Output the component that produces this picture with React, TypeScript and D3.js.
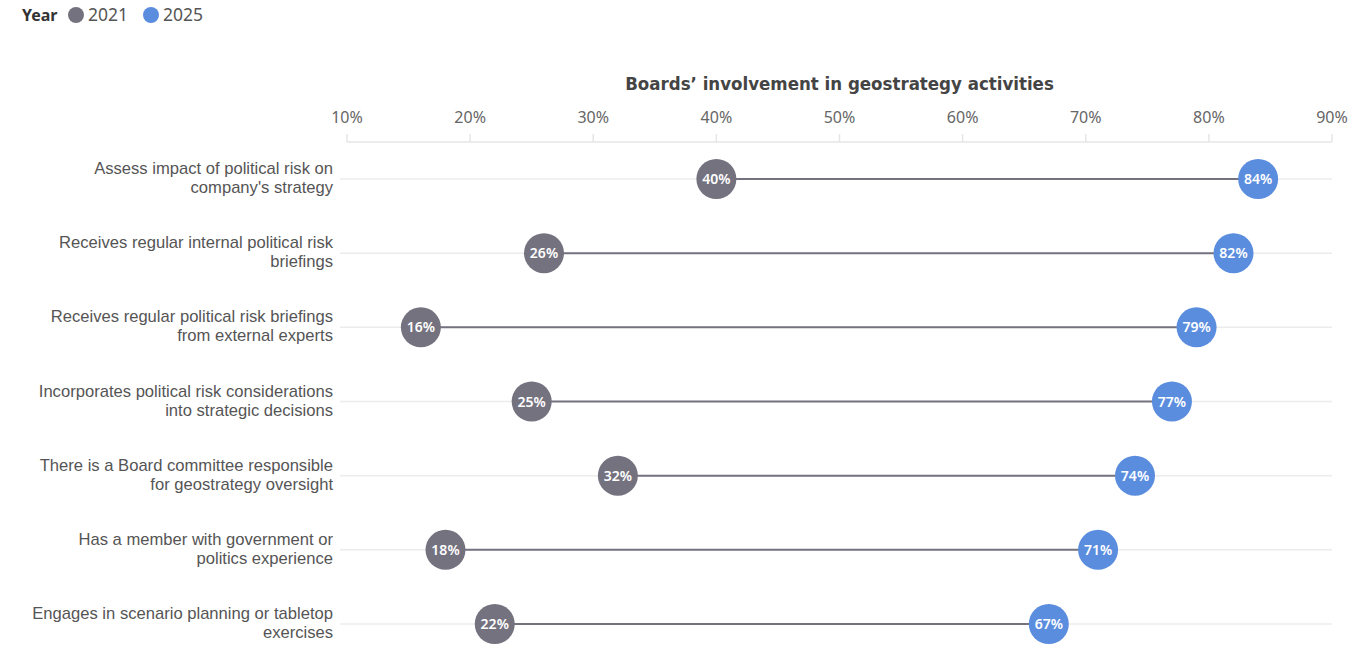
import React from "react";
import * as d3 from "d3";

const categories = [
  ["Assess impact of political risk on", "company's strategy"],
  ["Receives regular internal political risk", "briefings"],
  ["Receives regular political risk briefings", "from external experts"],
  ["Incorporates political risk considerations", "into strategic decisions"],
  ["There is a Board committee responsible", "for geostrategy oversight"],
  ["Has a member with government or", "politics experience"],
  ["Engages in scenario planning or tabletop", "exercises"],
];
const values2021 = [40, 26, 16, 25, 32, 18, 22];
const values2025 = [84, 82, 79, 77, 74, 71, 67];
const tickValues = [10, 20, 30, 40, 50, 60, 70, 80, 90];
const years = ["2021", "2025"];

const W = 1360;
const H = 651;
const C2021 = "#75727f";
const C2025 = "#5b8ddf";
const FONT = "'Noto Sans', 'Open Sans', sans-serif";
const LABEL_FONT = "'Liberation Sans', Arial, sans-serif";

export default function App() {
  const x = d3.scaleLinear().domain([10, 90]).range([347, 1332]);
  const y = d3
    .scalePoint<number>()
    .domain(d3.range(categories.length))
    .range([179, 624]);
  const axisY = 142;

  return (
    <svg
      width={W}
      height={H}
      style={{ position: "absolute", left: 0, top: 0, background: "#fff" }}
      fontFamily={FONT}
    >
      {/* legend */}
      <text x={22} y={21} fontSize={16} fontWeight={700} fill="#333">
        Year
      </text>
      <circle cx={76} cy={15} r={8} fill={C2021} />
      <text x={88} y={21} fontSize={17.5} fill="#555">
        {years[0]}
      </text>
      <circle cx={151} cy={15} r={8} fill={C2025} />
      <text x={163} y={21} fontSize={17.5} fill="#555">
        {years[1]}
      </text>

      {/* title */}
      <text
        x={(x(10) + x(90)) / 2}
        y={90}
        textAnchor="middle"
        fontSize={18.5}
        fontWeight={700}
        fill="#444"
        fontFamily="'DejaVu Sans Condensed', 'Noto Sans', sans-serif"
      >
        Boards’ involvement in geostrategy activities
      </text>

      {/* axis */}
      <line x1={x(10)} x2={x(90)} y1={axisY} y2={axisY} stroke="#e6e6e6" strokeWidth={1.5} />
      {tickValues.map((t) => (
        <g key={t}>
          <line x1={x(t)} x2={x(t)} y1={axisY - 8} y2={axisY} stroke="#e6e6e6" strokeWidth={1.5} />
          <text x={x(t)} y={123} textAnchor="middle" fontSize={16} fill="#666">
            {t}%
          </text>
        </g>
      ))}

      {/* rows */}
      {categories.map((lines, i) => {
        const cy = y(i)!;
        const a = values2021[i];
        const b = values2025[i];
        return (
          <g key={i}>
            <line x1={340} x2={x(90)} y1={cy} y2={cy} stroke="#ececec" strokeWidth={1.5} />
            <text x={333} y={cy - 5} textAnchor="end" fontSize={16.6} fill="#555" fontFamily={LABEL_FONT}>
              {lines[0]}
            </text>
            <text x={333} y={cy + 14} textAnchor="end" fontSize={16.6} fill="#555" fontFamily={LABEL_FONT}>
              {lines[1]}
            </text>
            <line x1={x(a)} x2={x(b)} y1={cy} y2={cy} stroke={C2021} strokeWidth={2} />
            <circle cx={x(a)} cy={cy} r={20} fill={C2021} />
            <text x={x(a)} y={cy + 5} textAnchor="middle" fontSize={14} fontWeight={600} fill="#fff">
              {a}%
            </text>
            <circle cx={x(b)} cy={cy} r={20} fill={C2025} />
            <text x={x(b)} y={cy + 5} textAnchor="middle" fontSize={14} fontWeight={600} fill="#fff">
              {b}%
            </text>
          </g>
        );
      })}
    </svg>
  );
}
